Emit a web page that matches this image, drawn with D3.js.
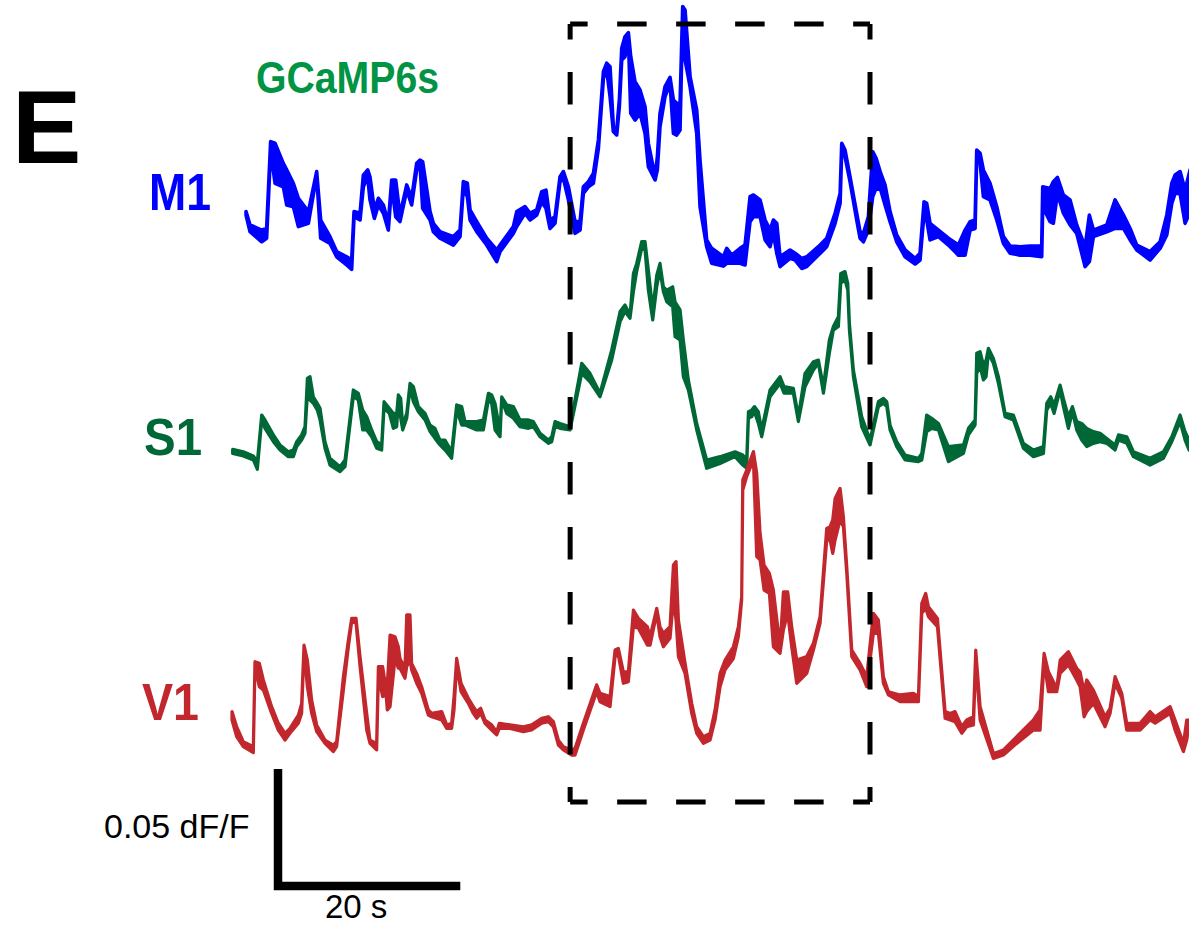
<!DOCTYPE html>
<html>
<head>
<meta charset="utf-8">
<script src="https://cdn.jsdelivr.net/npm/d3@7"></script>
<style>
  body { margin: 0; background: #fff; }
  svg { display: block; font-family: "Liberation Sans", Arial, sans-serif; }
</style>
</head>
<body>
<svg width="1189" height="927"></svg>
<script>
// Each trace: [time (s), upper edge (% dF/F), lower edge (% dF/F)]
var m1Trace = [
  [1.54,2.71,2.56],[1.98,2.14,1.85],[3.26,1.92,1.42],[3.80,1.99,1.57],[4.24,5.70,5.34],[4.72,5.63,3.92],[5.63,4.77,3.77],[6.00,4.49,2.99],[6.73,3.92,2.92],[7.28,3.28,2.07],
  [8.38,2.71,2.21],[9.29,4.42,4.27],[9.73,2.35,1.57],[10.75,1.64,1.35],[11.48,1.00,0.78],[12.58,0.78,0.43],[13.13,0.64,0.24],[13.39,2.71,2.49],[14.05,2.64,2.35],[14.41,4.27,3.77],
  [14.89,4.49,4.20],[15.14,4.20,3.21],[15.62,2.78,2.42],[16.06,3.28,2.99],[16.61,2.99,2.64],[17.15,2.21,1.92],[17.52,4.06,3.85],[17.96,4.06,2.49],[18.43,2.56,2.28],[19.17,3.85,3.63],
  [19.71,3.28,2.99],[20.26,4.77,4.49],[20.63,4.91,4.70],[20.92,4.84,2.85],[21.73,2.71,2.35],[22.09,2.21,1.85],[22.82,1.85,1.57],[24.29,1.64,1.28],[25.02,1.92,1.64],[25.38,3.99,3.70],
  [25.82,3.92,3.35],[26.12,2.78,2.35],[26.85,2.28,1.85],[27.94,1.57,1.28],[29.04,1.07,0.57],[29.41,1.28,1.00],[30.87,2.07,1.78],[31.24,2.71,2.07],[32.15,2.92,2.64],[32.70,2.64,2.35],
  [33.43,2.78,2.56],[33.98,3.56,3.13],[34.45,3.63,2.85],[34.89,2.35,1.99],[35.44,2.49,2.21],[35.99,4.20,3.99],[36.36,4.42,4.13],[36.91,3.77,3.21],[37.64,2.28,1.78],[38.19,2.28,1.92],
  [38.55,3.77,3.49],[39.10,3.99,3.77],[39.65,4.34,3.92],[40.20,5.77,5.41],[40.75,8.69,8.40],[41.11,9.05,8.76],[41.48,8.90,7.62],[41.84,6.34,6.13],[42.21,6.20,5.98],[42.50,7.48,7.19],
  [42.76,9.69,9.19],[43.12,10.19,9.33],[43.49,10.36,10.11],[43.75,9.33,6.91],[44.22,8.26,6.62],[44.77,7.91,6.91],[45.32,7.19,6.05],[45.68,5.63,4.63],[46.42,4.20,4.06],[46.67,5.06,4.49],
  [46.96,6.91,6.34],[47.51,8.05,7.62],[48.06,8.45,8.19],[48.43,7.48,6.05],[48.79,7.34,5.98],[49.16,7.34,6.20],[49.45,11.47,11.18],[49.71,11.32,9.19],[50.26,8.48,8.05],[50.99,7.05,6.05],
  [51.35,4.91,2.92],[52.08,1.50,1.21],[52.63,1.14,0.50],[53.91,0.78,0.38],[54.28,1.14,0.50],[54.83,0.85,0.50],[55.74,1.14,0.50],[56.29,1.28,0.43],[56.84,3.35,2.28],[57.21,3.42,2.49],
  [57.94,3.21,2.49],[58.49,2.35,1.50],[59.03,1.92,1.21],[59.40,2.35,1.78],[59.77,2.21,0.93],[60.13,0.78,0.36],[61.23,1.07,0.71],[61.78,0.93,0.64],[62.51,0.71,0.28],[63.06,0.78,0.36],
  [64.34,1.21,0.85],[65.25,1.57,1.21],[66.17,2.64,2.21],[66.72,3.49,3.06],[66.90,5.63,5.34],[67.26,5.34,5.06],[67.81,4.20,3.99],[68.54,2.64,2.35],[68.91,1.85,1.57],[69.28,1.78,1.42],
  [69.82,2.49,1.92],[70.30,5.27,3.35],[70.67,4.99,3.70],[71.18,4.34,3.63],[71.65,3.85,2.99],[72.20,2.71,2.28],[72.93,1.71,1.42],[73.85,1.07,0.78],[74.95,0.71,0.47],[75.49,0.93,0.64],
  [75.93,3.13,2.64],[76.22,3.06,2.35],[76.59,2.21,1.50],[77.51,1.92,1.64],[78.60,1.57,1.28],[79.70,1.28,0.85],[80.43,1.92,0.85],[80.98,2.28,1.92],[81.53,2.35,1.99],[81.71,5.34,5.13],
  [82.08,5.20,4.77],[82.44,4.49,3.35],[83.17,3.92,3.21],[83.91,2.92,2.35],[84.64,1.64,1.35],[85.37,1.24,0.93],[86.47,1.21,0.85],[87.56,1.24,0.85],[88.84,1.24,0.78],[88.95,3.77,2.92],
  [89.76,3.70,2.28],[90.12,3.99,2.21],[90.56,4.17,3.49],[91.22,3.42,2.64],[91.95,3.21,2.14],[92.68,2.14,1.78],[93.60,1.21,0.36],[94.07,2.56,0.57],[94.51,1.92,1.64],[95.98,2.14,1.85],
  [96.89,3.21,1.99],[97.81,2.56,1.99],[98.54,1.99,1.50],[99.27,1.28,1.07],[100.73,1.00,0.64],[101.83,1.42,1.14],[102.56,2.56,1.71],[103.11,3.92,3.06],[103.47,4.27,3.49],[104.02,4.42,3.49],
  [104.57,3.63,2.21],[105.12,4.49,2.71]
];

var s1Trace = [
  [0.07,0.88,0.71],[1.24,0.78,0.60],[2.34,0.60,0.43],[2.78,0.36,0.03],[3.26,2.35,2.14],[3.62,2.14,1.78],[4.54,1.50,1.21],[5.27,1.07,0.85],[6.18,0.78,0.57],[6.73,0.85,0.57],
  [7.10,1.21,1.00],[7.64,1.50,1.28],[8.01,1.85,1.57],[8.27,3.92,3.21],[8.56,3.99,2.99],[8.92,3.13,2.85],[9.36,2.85,2.56],[9.66,2.64,2.14],[10.20,1.21,0.93],[10.75,0.50,0.21],
  [11.85,0.14,-0.07],[12.40,0.43,0.14],[13.31,3.42,3.13],[13.86,3.28,2.99],[14.34,2.56,1.71],[14.78,2.28,1.71],[15.33,1.71,1.42],[15.87,1.21,0.93],[16.42,1.07,0.85],[16.68,2.92,2.64],
  [17.26,2.64,2.42],[17.70,2.42,1.78],[18.07,2.42,1.85],[18.25,3.21,2.92],[18.51,3.06,2.21],[18.73,1.92,1.71],[19.17,2.42,2.21],[19.53,3.70,3.49],[19.90,3.56,2.92],[20.45,2.71,2.49],
  [21.18,2.42,2.14],[21.73,1.92,1.64],[22.27,1.78,1.35],[22.82,1.28,1.07],[23.37,1.28,0.85],[24.10,0.78,0.50],[24.65,2.78,2.56],[25.20,2.71,1.92],[25.57,2.07,1.92],[26.85,2.07,1.71],
  [27.58,2.14,1.71],[28.13,3.28,2.99],[28.49,3.21,2.85],[28.86,2.85,1.71],[29.41,1.64,1.42],[29.59,3.13,2.99],[30.14,2.78,2.42],[30.87,2.71,2.21],[31.60,2.14,1.85],[32.52,2.14,1.78],
  [33.06,2.07,1.85],[33.80,1.57,1.42],[34.71,1.28,1.14],[35.08,1.42,1.21],[35.44,2.07,1.85],[35.99,1.99,1.78],[37.09,1.85,1.71],[38.37,4.56,4.13],[39.28,4.13,3.77],[40.38,3.28,3.13],
  [41.66,5.13,4.70],[42.58,6.77,6.34],[43.12,7.05,6.77],[43.67,6.62,6.48],[44.04,8.40,7.62],[44.40,8.83,8.48],[44.95,9.76,9.47],[45.32,9.76,9.40],[45.68,8.55,7.69],[46.16,6.84,6.41],
  [46.60,8.33,7.83],[46.96,8.83,8.55],[47.33,7.83,7.62],[47.70,7.69,7.19],[48.35,7.83,6.98],[48.61,7.19,5.70],[49.16,6.84,5.56],[49.52,5.56,3.99],[50.07,3.85,3.42],[50.99,1.99,1.71],
  [52.08,0.43,0.07],[53.55,0.57,0.28],[55.19,0.78,0.57],[56.04,0.64,0.21],[56.47,0.43,0.07],[56.66,2.49,2.21],[57.02,2.56,2.28],[57.32,2.71,2.49],[57.75,2.49,1.99],[58.12,1.71,1.42],
  [59.03,3.42,3.13],[60.13,3.99,3.70],[60.57,3.56,3.28],[61.59,3.49,3.28],[62.14,2.28,2.07],[62.87,4.13,3.56],[63.79,4.63,4.27],[64.34,4.70,4.56],[64.89,3.56,3.28],[65.54,5.56,4.99],
  [65.98,6.13,5.98],[66.53,6.55,6.13],[66.79,8.40,7.98],[67.26,8.48,8.12],[67.56,7.98,7.69],[67.74,6.27,5.98],[68.18,4.27,3.99],[69.09,2.28,1.85],[70.01,1.28,1.07],[70.92,2.92,2.71],
  [71.47,3.06,2.85],[71.84,2.92,2.71],[72.20,1.92,1.71],[72.93,1.21,1.00],[73.85,0.64,0.43],[75.31,0.50,0.36],[75.68,0.71,0.43],[76.22,2.35,1.64],[76.77,2.21,1.78],[77.51,1.99,1.71],
  [78.60,1.00,0.36],[80.25,1.07,0.71],[80.80,1.78,1.50],[81.53,2.14,1.92],[81.71,4.99,4.13],[82.08,5.06,4.42],[82.44,4.49,3.85],[82.74,4.70,3.99],[82.99,5.20,4.99],[83.54,4.77,4.56],
  [84.09,3.99,3.70],[84.82,2.42,2.28],[85.73,2.35,2.14],[86.83,1.14,0.93],[87.93,0.85,0.57],[89.03,1.00,0.71],[89.39,2.85,2.56],[89.83,3.13,2.85],[90.20,2.78,2.42],[90.86,3.63,3.42],
  [91.22,3.06,2.71],[91.77,2.28,1.78],[92.21,2.71,2.49],[92.68,2.07,1.71],[93.23,1.99,1.28],[93.78,1.78,1.00],[94.51,1.64,1.14],[95.25,1.57,1.21],[95.98,1.35,1.14],[96.89,1.07,0.85],
  [97.26,1.50,1.28],[98.17,1.42,1.14],[98.90,0.78,0.57],[100.73,0.50,0.21],[102.19,0.78,0.50],[103.11,1.42,1.21],[104.02,2.35,2.07],[104.57,1.64,1.28],[105.01,1.28,0.85]
];

var v1Trace = [
  [0.00,2.07,1.71],[0.51,1.42,1.00],[1.24,0.78,0.57],[2.34,0.57,0.31],[2.52,4.20,3.99],[3.00,4.13,3.13],[3.44,3.42,2.99],[4.35,2.28,1.99],[5.08,1.57,1.28],[5.82,1.14,0.85],
  [6.36,1.35,1.14],[7.28,1.92,1.57],[7.64,2.42,1.99],[7.90,4.91,4.70],[8.27,4.27,3.13],[8.74,2.56,1.99],[9.29,1.50,1.21],[10.20,0.85,0.71],[11.12,0.64,0.36],[11.48,0.78,0.57],
  [12.22,3.56,2.99],[12.77,5.13,4.84],[13.13,6.05,5.91],[13.61,6.05,5.84],[14.05,4.42,3.99],[14.78,1.99,1.28],[15.14,0.85,0.71],[15.87,0.71,0.43],[16.06,3.99,3.56],[16.53,3.99,2.71],
  [16.90,3.06,2.78],[17.04,3.21,2.14],[17.34,5.34,2.28],[17.89,5.27,4.34],[18.25,4.84,3.92],[18.43,4.34,3.92],[18.98,3.92,3.49],[19.17,6.20,3.99],[19.53,6.20,4.27],[19.71,4.13,3.85],
  [20.26,3.70,3.28],[20.81,3.13,2.85],[21.54,2.14,1.92],[21.91,1.99,1.85],[23.01,2.07,1.71],[23.56,1.50,1.35],[24.10,1.57,1.35],[24.36,2.71,2.14],[24.65,4.34,4.06],[25.13,3.28,2.92],
  [25.93,2.64,2.42],[26.48,2.28,1.99],[26.85,2.07,1.78],[27.29,2.21,1.99],[27.76,1.71,1.57],[28.49,1.50,1.28],[29.04,1.21,1.07],[29.33,1.57,1.35],[30.50,1.50,1.35],[31.97,1.42,1.21],
  [32.88,1.50,1.28],[33.98,1.78,1.57],[34.71,1.85,1.64],[35.26,1.64,1.42],[35.81,0.85,0.64],[36.36,0.57,0.43],[37.27,0.43,0.21],[37.64,0.50,0.21],[38.55,1.57,1.28],[40.01,3.21,2.92],
  [40.38,2.85,2.49],[41.48,2.71,2.28],[42.03,4.70,4.42],[42.39,4.77,4.49],[42.94,3.77,3.28],[43.49,3.77,3.35],[44.04,6.41,5.70],[44.59,6.05,5.63],[45.57,5.70,4.91],[45.87,5.27,4.91],
  [46.60,6.48,6.27],[46.96,5.70,5.27],[47.33,5.41,4.84],[48.06,5.70,5.20],[48.43,8.33,6.84],[48.72,8.48,5.98],[48.98,5.98,4.42],[49.71,4.13,3.70],[50.44,2.42,1.99],[50.99,1.42,1.14],
  [51.72,1.00,0.71],[52.45,1.14,0.85],[53.00,2.14,1.71],[53.55,3.70,3.13],[54.10,4.27,3.85],[55.01,4.84,4.34],[55.56,5.70,5.27],[55.92,6.98,6.84],[56.04,11.97,11.54],[56.47,12.39,12.11],
  [57.21,13.18,12.82],[57.57,12.25,8.69],[57.94,9.69,8.55],[58.38,8.33,7.26],[58.96,7.98,7.12],[59.40,7.26,4.84],[60.13,4.84,4.56],[60.50,7.19,5.56],[60.97,7.19,6.27],[61.41,5.70,4.84],
  [61.96,4.27,3.28],[63.06,4.42,3.70],[63.79,4.99,4.70],[64.52,6.13,5.84],[65.25,9.90,9.40],[65.62,9.97,9.40],[65.91,10.26,8.83],[66.17,11.18,9.40],[66.72,11.61,10.26],[67.08,10.40,9.97],
  [67.45,8.26,7.98],[68.00,4.70,4.42],[68.91,4.13,3.85],[69.64,3.56,3.13],[70.37,6.27,5.41],[70.92,5.98,5.41],[71.47,3.56,3.28],[72.02,2.92,2.78],[73.30,2.78,2.49],[74.76,2.85,2.49],
  [75.31,2.71,2.49],[75.68,6.70,6.27],[76.11,7.12,6.48],[76.41,6.55,6.13],[77.40,6.05,5.70],[78.24,2.07,1.78],[78.79,1.99,1.71],[79.33,2.07,1.64],[80.07,1.42,1.14],[80.61,1.71,1.42],
  [81.35,1.85,1.50],[81.60,4.70,4.27],[82.08,2.28,1.71],[83.54,0.28,0.07],[84.64,0.43,0.21],[86.10,1.00,0.71],[87.93,1.71,1.28],[88.66,2.14,1.28],[89.10,4.56,4.20],[89.58,3.77,2.92],
  [90.49,3.06,2.92],[90.86,4.27,3.70],[91.77,4.63,4.06],[92.68,3.92,3.42],[93.05,3.77,3.13],[93.49,2.92,1.85],[93.78,3.42,2.07],[94.51,2.99,2.42],[95.79,1.85,1.42],[96.34,2.21,1.99],
  [96.89,3.56,3.28],[97.62,2.85,2.64],[98.17,1.57,1.28],[99.63,1.57,1.28],[100.73,2.07,1.71],[101.28,1.85,1.57],[102.93,2.28,1.99],[103.47,1.71,1.28],[104.39,0.71,0.36],[104.75,1.71,0.85],
  [105.01,1.71,1.50]
];

var regions = ["M1", "S1", "V1"];
var regionColors = ["#0000ff", "#006837", "#c1272d"];
var windowSec = [37.1, 70.0];   // dashed box
var scaleBarSec = 20, scaleBarPct = 5;

var svg = d3.select("svg");

var x = d3.scaleLinear().domain([0, 105]).range([232, 1189]);
// 5 % dF/F = 117 px
var amp = d3.scaleLinear().domain([0, 5]).range([0, 117]);

var traces = [
  {data: m1Trace, base: 275, width: 3.6, labelX: 149, labelY: 210, labelW: 62},
  {data: s1Trace, base: 470, width: 3.2, labelX: 144, labelY: 455, labelW: 58},
  {data: v1Trace, base: 760, width: 3.2, labelX: 142, labelY: 720, labelW: 57}
];

traces.forEach(function(tr, i) {
  var y = function(v) { return tr.base - amp(v); };
  var area = d3.area()
    .x(function(d) { return x(d[0]); })
    .y0(function(d) { return y(d[2]); })
    .y1(function(d) { return y(d[1]); });

  svg.append("path")
    .datum(tr.data)
    .attr("d", area)
    .attr("fill", regionColors[i])
    .attr("stroke", regionColors[i])
    .attr("stroke-width", tr.width)
    .attr("stroke-linejoin", "round");

  svg.append("text")
    .attr("x", tr.labelX)
    .attr("y", tr.labelY)
    .attr("font-size", 52)
    .attr("font-weight", "bold")
    .attr("fill", regionColors[i])
    .attr("textLength", tr.labelW)
    .attr("lengthAdjust", "spacingAndGlyphs")
    .text(regions[i]);
});

// dashed window
var boxTop = 24, boxBottom = 802;
var box = svg.append("g")
  .attr("stroke", "#000")
  .attr("stroke-width", 5)
  .attr("fill", "none");

[boxTop, boxBottom].forEach(function(yy) {
  box.append("line")
    .attr("x1", x(windowSec[0])).attr("x2", x(windowSec[1]))
    .attr("y1", yy).attr("y2", yy)
    .attr("stroke-dasharray", "29.5,29.5")
    .attr("stroke-dashoffset", 12);
});
windowSec.forEach(function(t) {
  box.append("line")
    .attr("x1", x(t)).attr("x2", x(t))
    .attr("y1", boxTop).attr("y2", boxBottom)
    .attr("stroke-dasharray", "32.5,32.5")
    .attr("stroke-dashoffset", 17);
});

// scale bar
var sbX = 278, sbY = 886;
svg.append("path")
  .attr("d", "M" + sbX + "," + (sbY - amp(scaleBarPct)) +
             "V" + sbY +
             "H" + (sbX + x(scaleBarSec) - x(0)))
  .attr("fill", "none")
  .attr("stroke", "#000")
  .attr("stroke-width", 8.5)
  .attr("stroke-linejoin", "miter");

svg.append("text")
  .attr("x", 104).attr("y", 838)
  .attr("font-size", 34)
  .text("0." + String(scaleBarPct).padStart(2, "0") + " dF/F");

svg.append("text")
  .attr("x", 325).attr("y", 918)
  .attr("font-size", 33)
  .text(scaleBarSec + " s");

// panel letter and indicator name
svg.append("text")
  .attr("x", 12).attr("y", 163)
  .attr("font-size", 104)
  .attr("font-weight", "bold")
  .text("E");

svg.append("text")
  .attr("x", 256).attr("y", 93)
  .attr("font-size", 44)
  .attr("font-weight", "bold")
  .attr("fill", "#009444")
  .attr("textLength", 183)
  .attr("lengthAdjust", "spacingAndGlyphs")
  .text("GCaMP6s");
</script>
</body>
</html>
